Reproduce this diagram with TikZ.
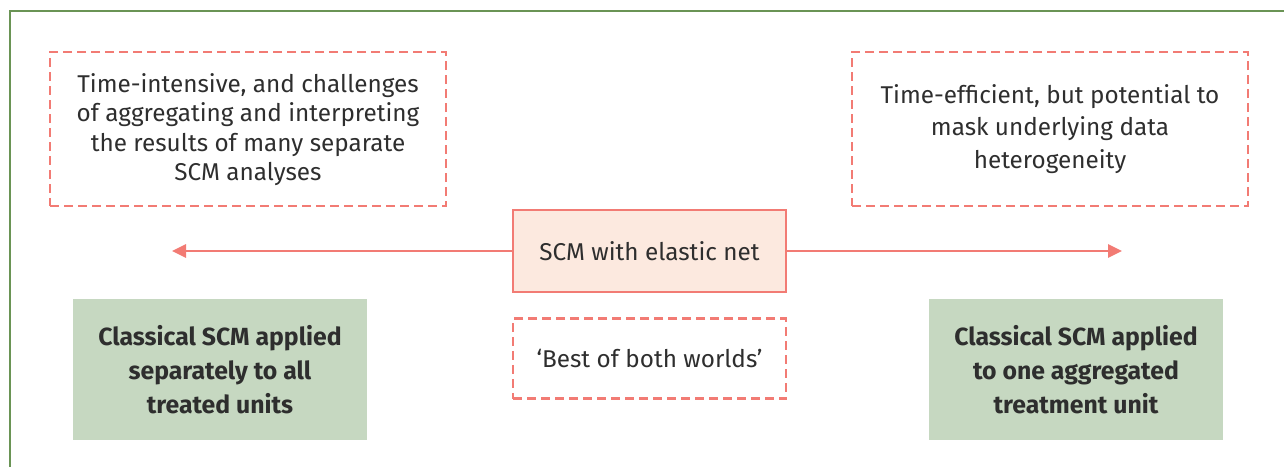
\documentclass[tikz,border=0pt]{standalone}
\usepackage{fontspec}
\setmainfont{Fira Sans}
\usetikzlibrary{arrows.meta,positioning}

\definecolor{salmon}{HTML}{F27B74}
\definecolor{peach}{HTML}{FCE9DF}
\definecolor{sage}{HTML}{C6D8C1}
\definecolor{frame}{HTML}{6A9455}
\definecolor{ink}{HTML}{2E2E2E}

\begin{document}
\begin{tikzpicture}[
  x=1pt, y=-1pt,
  font=\fontsize{24.3}{29.5}\selectfont, text=ink,
  notebox/.style={draw=salmon, line width=2.9pt, dash pattern=on 9pt off 5pt, minimum width=396pt, minimum height=154pt, align=center},
  mainbox/.style={draw=salmon, fill=peach, line width=2.8pt, minimum width=273pt, minimum height=82pt, align=center},
  quotebox/.style={draw=salmon, line width=2.9pt, dash pattern=on 9pt off 5pt, minimum width=273pt, minimum height=80pt, align=center},
  methodbox/.style={fill=sage, minimum width=294pt, minimum height=141pt, align=center, font=\fontsize{24.8}{34}\selectfont\bfseries},
  line/.style={-{Triangle[length=14pt,width=13pt]}, draw=salmon, line width=2.8pt}
]
\useasboundingbox (0,0) rectangle (1284,466);
\draw[frame, line width=1.6pt] (10,470) -- (10,11) -- (1290,11);

\node[notebox] (slow) at (248,129) {\strut Time-intensive, and challenges\\of aggregating and interpreting\\the results of many separate\\SCM analyses};
\node[notebox, font=\fontsize{24.3}{32.5}\selectfont] (fast) at (1050,129) {Time-efficient, but potential to\\mask underlying data\\heterogeneity};
\node[mainbox] (enet) at (649.5,251) {SCM with elastic net};
\node[quotebox, below=24pt of enet] (best) {‘Best of both worlds’};
\node[methodbox] (separate) at (220,369.5) {Classical SCM applied\\separately to all\\treated units};
\node[methodbox] (pooled) at (1076,369.5) {Classical SCM applied\\to one aggregated\\treatment unit};

\coordinate (lefttip) at (172,251);
\coordinate (righttip) at (1122,251);

\draw[line] (enet) -- (lefttip);
\draw[line] (enet) -- (righttip);
\end{tikzpicture}
\end{document}
